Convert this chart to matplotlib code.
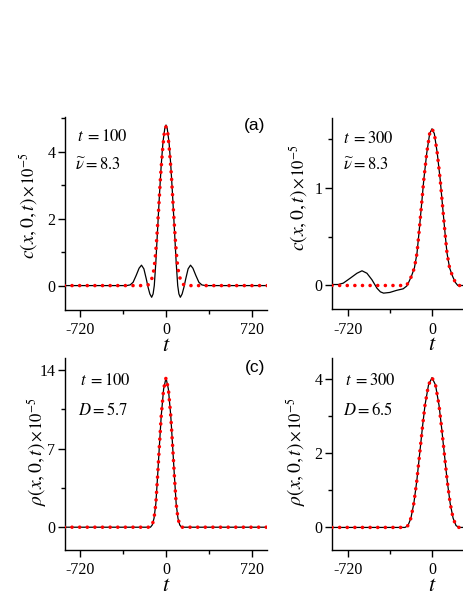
import numpy as np
import matplotlib
matplotlib.use("Agg")
import matplotlib.pyplot as plt
from matplotlib.ticker import MultipleLocator, FixedLocator, FixedFormatter

plt.rcParams['font.family'] = ['Liberation Serif', 'DejaVu Serif']
plt.rcParams['mathtext.fontset'] = 'stix'
plt.rcParams['axes.unicode_minus'] = False

# (a) c(x,0,t), t = 100
t_a = [-850, -500, -330, -300, -275, -250, -225, -205, -185, -165, -150, -135, -120, -108,
       -98, -85, -70, -55, -40, -25, -10, 0, 10, 25, 40, 55, 70, 85, 98, 108, 120, 135,
       150, 165, 185, 205, 225, 250, 275, 300, 330, 500, 850]
black_a = [0, 0, 0, 0.02, 0.1, 0.3, 0.52, 0.61, 0.5, 0.2, -0.05, -0.25, -0.35, -0.25,
           0.0, 0.7, 1.7, 2.7, 3.6, 4.3, 4.7, 4.8, 4.7, 4.3, 3.6, 2.7, 1.7, 0.7, 0.0, -0.25,
           -0.35, -0.25, -0.05, 0.2, 0.5, 0.61, 0.52, 0.3, 0.1, 0.02, 0, 0, 0]
t_a_fit = [-850, -200, -150, -125, -105, -92, -80, -62, -45, -30, -15, 0,
           15, 30, 45, 62, 80, 92, 105, 125, 150, 200, 850]
red_a = [0, 0, 0.02, 0.12, 0.4, 0.75, 1.27, 2.26, 3.3, 4.0, 4.55, 4.75,
         4.55, 4.0, 3.3, 2.26, 1.27, 0.75, 0.4, 0.12, 0.02, 0, 0]

# (b) c(x,0,t), t = 300
t_b = [-853, -800, -757, -697, -640, -597, -555, -512, -470, -440, -413, -360, -303,
       -246, -215, -200, -177, -150, -128, -110, -91, -70, -45, -20, 0, 20, 45, 70, 91,
       110, 128, 150, 177, 200, 220, 300, 853]
black_b = [0.01, 0.01, 0.024, 0.075, 0.125, 0.15, 0.125, 0.058, -0.027, -0.065, -0.078,
           -0.071, -0.05, -0.034, -0.005, 0.03, 0.09, 0.18, 0.33, 0.55, 0.8, 1.08, 1.35,
           1.55, 1.6, 1.55, 1.35, 1.08, 0.8, 0.55, 0.33, 0.18, 0.09, 0.03, 0.0, 0, 0]
t_b_fit = [-853, -220, -200, -177, -150, -128, -110, -91, -70, -45, -20, 0,
           20, 45, 70, 91, 110, 128, 150, 177, 200, 220, 853]
red_b = [0, 0, 0.03, 0.09, 0.18, 0.33, 0.55, 0.8, 1.08, 1.35, 1.55, 1.6,
         1.55, 1.35, 1.08, 0.8, 0.55, 0.33, 0.18, 0.09, 0.03, 0, 0]

# (c) rho(x,0,t), t = 100
t_c = [-850, -130, -115, -100, -85, -70, -55, -40, -20, 0, 20, 40, 55, 70, 85, 100, 115, 130, 850]
black_c = [0, 0, 0.2, 0.8, 2.1, 4.6, 7.3, 9.9, 12.3, 13.3, 12.3, 9.9, 7.3, 4.6, 2.1, 0.8, 0.2, 0, 0]
red_c = [0, 0, 0.2, 0.8, 2.1, 4.6, 7.3, 9.9, 12.3, 13.3, 12.3, 9.9, 7.3, 4.6, 2.1, 0.8, 0.2, 0, 0]

# (d) rho(x,0,t), t = 300
t_d = [-853, -230, -205, -180, -155, -130, -105, -80, -60, -30, 0,
       30, 60, 80, 105, 130, 155, 180, 205, 230, 853]
black_d = [0, 0, 0.05, 0.25, 0.65, 1.25, 2.0, 2.75, 3.3, 3.85, 4.05,
           3.85, 3.3, 2.75, 2.0, 1.25, 0.65, 0.25, 0.05, 0, 0]
red_d = [0, 0, 0.05, 0.25, 0.65, 1.25, 2.0, 2.75, 3.3, 3.85, 4.05,
         3.85, 3.3, 2.75, 2.0, 1.25, 0.65, 0.25, 0.05, 0, 0]

x_ticks = [-720, 0, 720]
x_ticklabels = ['-720', '0', '720']

W, H = 463, 599
fig = plt.figure(figsize=(W / 100, H / 100), dpi=100)


def px_axes(left, right, top, bottom):
    return fig.add_axes([left / W, (H - bottom) / H, (right - left) / W, (bottom - top) / H])


def style(ax, xlim, ylim, ymaj, ymin, show_right=True):
    ax.set_xlim(*xlim)
    ax.set_ylim(*ylim)
    ax.xaxis.set_major_locator(FixedLocator(x_ticks))
    labels = x_ticklabels if show_right else x_ticklabels[:2] + ['']
    ax.xaxis.set_major_formatter(FixedFormatter(labels))
    ax.xaxis.set_minor_locator(MultipleLocator(360))
    ax.yaxis.set_major_locator(MultipleLocator(ymaj))
    ax.yaxis.set_minor_locator(MultipleLocator(ymin))
    for s in ['top', 'right']:
        ax.spines[s].set_visible(False)
    for s in ['left', 'bottom']:
        ax.spines[s].set_linewidth(1.0)
    ax.tick_params(which='major', direction='out', length=5, width=1.0, labelsize=11.5)
    ax.tick_params(which='minor', direction='out', length=3, width=1.0)
    ax.tick_params(axis='y', pad=2)
    ax.tick_params(axis='x', pad=4)
    ax.set_xlabel(r'$t$', fontsize=16, labelpad=-1)


def ylab(name, x_base, y_join):
    # two-part rotated label: big function name, smaller scale factor
    fx, fy = x_base / W, (H - y_join) / H
    fig.text(fx, fy, name, rotation=90, rotation_mode='anchor',
             ha='right', va='baseline', fontsize=14)
    fig.text(fx, fy, r'$\times\,10^{-5}$', rotation=90, rotation_mode='anchor',
             ha='left', va='baseline', fontsize=12)


def curves(ax, tb, yb, tr, yr):
    ax.plot(tb, yb, color='black', lw=0.9, zorder=3)
    ax.plot(tr, yr, color='#ff0000', lw=2.6, linestyle=(0, (0.01, 2.1)),
            dash_capstyle='round', zorder=4)


c_name = r'$c(x,0,t)$'
r_name = r'$\rho(x,0,t)$'
txt = dict(fontsize=12, ha='left', va='center')

ax_a = px_axes(65, 267, 117, 310)
curves(ax_a, t_a, black_a, t_a_fit, red_a)
style(ax_a, (-845, 845), (-0.73, 5.04), 2, 1)
ylab(c_name, 34, 197)
ax_a.text(0.06, 0.894, r'$t\;=100$', transform=ax_a.transAxes, **txt)
ax_a.text(0.05, 0.746, r'$\widetilde{\nu}=8.3$', transform=ax_a.transAxes, **txt)
ax_a.text(0.99, 0.956, '(a)', transform=ax_a.transAxes, fontsize=12.5,
          family='Liberation Sans', ha='right', va='center')

ax_b = px_axes(332, 532, 118, 309)
curves(ax_b, t_b, black_b, t_b_fit, red_b)
style(ax_b, (-853, 853), (-0.24, 1.71), 1, 0.5, show_right=False)
ylab(c_name, 304, 189)
ax_b.text(0.055, 0.89, r'$t\;=300$', transform=ax_b.transAxes, **txt)
ax_b.text(0.055, 0.749, r'$\widetilde{\nu}=8.3$', transform=ax_b.transAxes, **txt)

ax_c = px_axes(65, 267, 358, 550)
curves(ax_c, t_c, black_c, t_c, red_c)
style(ax_c, (-845, 845), (-2.03, 15.07), 7, 3.5)
ylab(r_name, 42, 442)
ax_c.text(0.074, 0.88, r'$t\;=100$', transform=ax_c.transAxes, **txt)
ax_c.text(0.064, 0.729, r'$D=5.7$', transform=ax_c.transAxes, **txt)
ax_c.text(0.99, 0.953, '(c)', transform=ax_c.transAxes, fontsize=12.5,
          family='Liberation Sans', ha='right', va='center')

ax_d = px_axes(332, 532, 358, 550)
curves(ax_d, t_d, black_d, t_d, red_d)
style(ax_d, (-853, 853), (-0.61, 4.58), 2, 1, show_right=False)
ylab(r_name, 301, 442)
ax_d.text(0.065, 0.88, r'$t\;=300$', transform=ax_d.transAxes, **txt)
ax_d.text(0.055, 0.729, r'$D=6.5$', transform=ax_d.transAxes, **txt)

fig.savefig('out.png', dpi=100, facecolor='white')
